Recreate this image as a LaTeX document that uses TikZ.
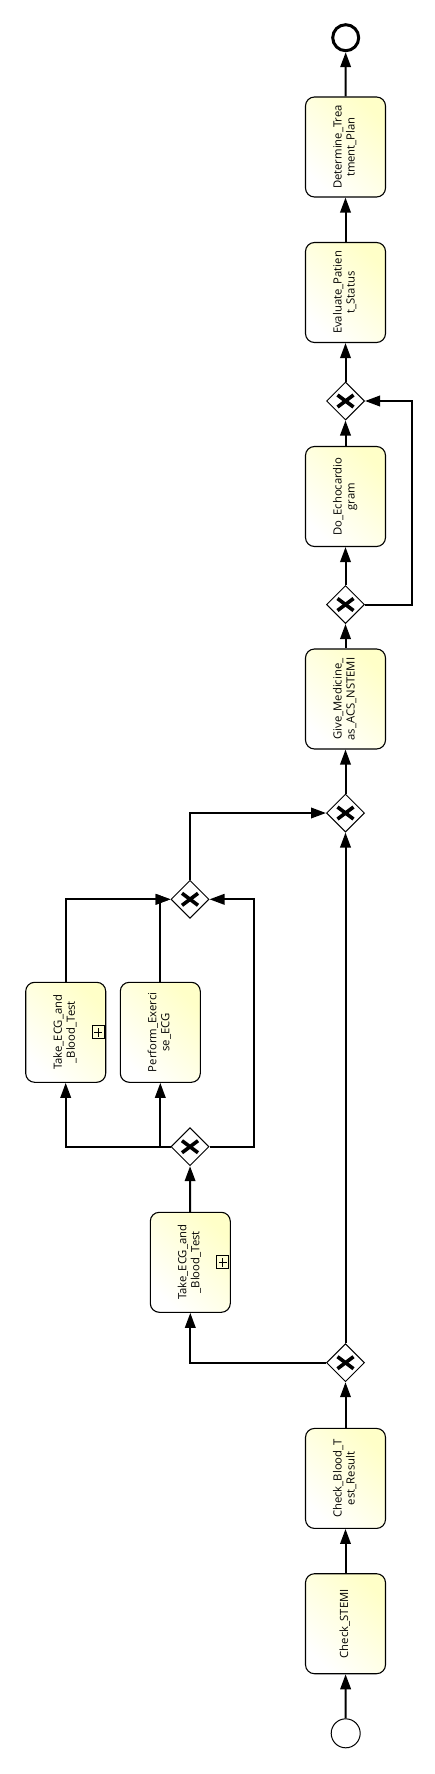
\documentclass[tikz,border=0pt]{standalone}
\usepackage{fontspec}
\setmainfont{Open Sans}[Ligatures=NoCommon]
\usepackage{graphicx}
\usetikzlibrary{arrows.meta,shapes.geometric,calc}
\definecolor{taskyel}{RGB}{255,255,200}
\newcommand{\vlab}[1]{\rotatebox{90}{\fontsize{11.3}{13}\selectfont\begin{tabular}{@{}c@{}}#1\end{tabular}}}
\tikzset{
tbox/.style={draw, line width=1.1pt, rounded corners=9pt, top color=taskyel, bottom color=white, shading angle=-45, minimum width=80pt, minimum height=100pt, inner sep=0pt},
gbox/.style={diamond, draw, line width=1pt, fill=white, minimum width=38pt, minimum height=38pt, inner sep=0pt,
  path picture={\draw[line width=3.6pt] ([shift={(-8pt,-6pt)}]path picture bounding box.center) -- ([shift={(8pt,6pt)}]path picture bounding box.center);
                \draw[line width=3.6pt] ([shift={(-8pt,6pt)}]path picture bounding box.center) -- ([shift={(8pt,-6pt)}]path picture bounding box.center);}},
sev/.style={circle, draw, line width=1pt, fill=white, minimum size=29pt, inner sep=0pt},
eev/.style={circle, draw, line width=3pt, fill=white, minimum size=26pt, inner sep=0pt},
subm/.style={draw, line width=0.9pt, minimum width=12pt, minimum height=13pt, inner sep=0pt},
arr/.style={line width=2pt, -{Triangle[length=15pt, width=10.5pt]}}
}
\begin{document}
\begin{tikzpicture}[x=1pt, y=-1pt]
\useasboundingbox (0,0) rectangle (435,1774);
% main line, bottom to top
\node[sev] (start) at (345.7,1733.3) {};
\node[tbox] (stemi) at (345.5,1623.7) {\vlab{Check\_STEMI}};
\node[tbox] (blood) at (345.5,1478.4) {\vlab{Check\_Blood\_T\\est\_Result}};
\node[gbox] (split1) at (345.5,1362.7) {};
\node[gbox] (join) at (345.5,813) {};
\node[tbox] (med) at (345.5,699) {\vlab{Give\_Medicine\_\\as\_ACS\_NSTEMI}};
\node[gbox] (loopA) at (345.5,604.5) {};
\node[tbox] (echo) at (345.5,496.5) {\vlab{Do\_Echocardio\\gram}};
\node[gbox] (loopB) at (345.5,401) {};
\node[tbox] (evals) at (345.5,292.5) {\vlab{Evaluate\_Patien\\t\_Status}};
\node[tbox] (plan) at (345.5,147) {\vlab{Determine\_Trea\\tment\_Plan}};
\node[eev] (end) at (345.7,37.7) {};
% test branch
\node[tbox] (take1) at (190.3,1262.3) {\vlab{Take\_ECG\_and\\\_Blood\_Test}};
\node[subm] (take1m) at ([xshift=-8pt]take1.east) {};
\draw[line width=0.8pt] ([yshift=-4.5pt]take1m.center) -- ([yshift=4.5pt]take1m.center)
  ([xshift=-4pt]take1m.center) -- ([xshift=4pt]take1m.center);
\node[gbox] (split2) at (190,1146.7) {};
\node[tbox] (take2) at (65.7,1032.3) {\vlab{Take\_ECG\_and\\\_Blood\_Test}};
\node[subm] (take2m) at ([xshift=-8pt]take2.east) {};
\draw[line width=0.8pt] ([yshift=-4.5pt]take2m.center) -- ([yshift=4.5pt]take2m.center)
  ([xshift=-4pt]take2m.center) -- ([xshift=4pt]take2m.center);
\node[tbox] (perf) at (160.3,1032.3) {\vlab{Perform\_Exerci\\se\_ECG}};
\node[gbox] (merge) at (190,899.3) {};
% flows
\draw[arr] (start) -- (stemi);
\draw[arr] (stemi) -- (blood);
\draw[arr] (blood) -- (split1);
\draw[arr] (split1) -- (join);
\draw[arr] (split1.west) -| (take1.south);
\draw[arr] (take1) -- (split2);
\draw[arr] (split2.west) -| (take2.south);
\draw[arr] (split2.west) -| (perf.south);
\draw[arr] (split2.east) -- ++(44.3,0) |- (merge.east);
\draw[arr] (take2.north) |- (merge.west);
\draw[arr] (perf.north) |- (merge.west);
\draw[arr] (merge.north) |- (join.west);
\draw[arr] (join) -- (med);
\draw[arr] (med) -- (loopA);
\draw[arr] (loopA) -- (echo);
\draw[arr] (echo) -- (loopB);
\draw[arr] (loopA.east) -- ++(46.5,0) |- (loopB.east);
\draw[arr] (loopB) -- (evals);
\draw[arr] (evals) -- (plan);
\draw[arr] (plan) -- (end);
\end{tikzpicture}
\end{document}
